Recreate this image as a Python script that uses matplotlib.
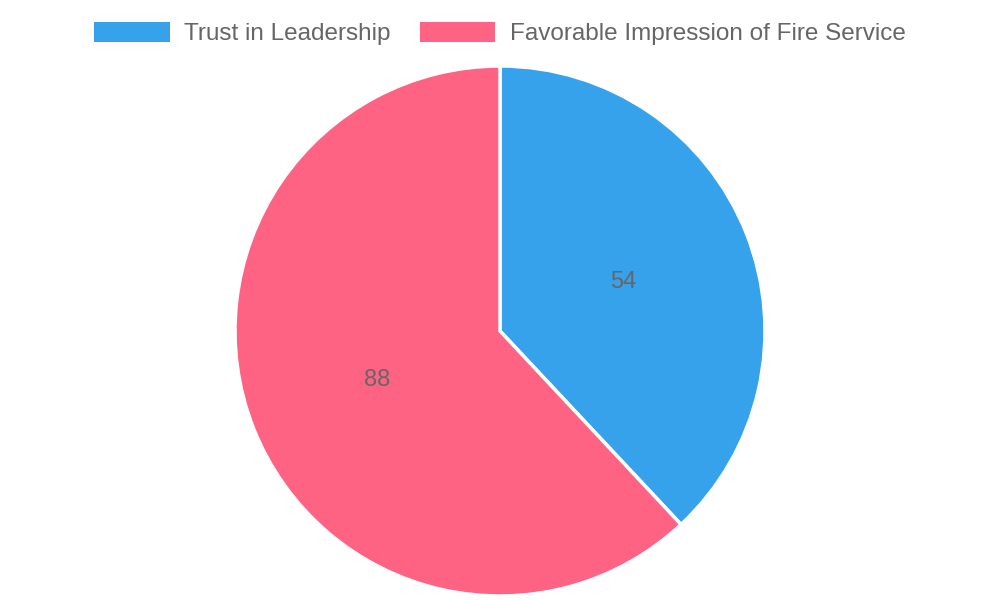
import matplotlib.pyplot as plt
from matplotlib.patches import Patch

labels = ["Trust in Leadership", "Favorable Impression of Fire Service"]
values = [54, 88]
colors = ["#36A2EB", "#FF6384"]

plt.rcParams["font.family"] = ["Liberation Sans", "DejaVu Sans"]

fig = plt.figure(figsize=(10, 6), dpi=100)
r_px, cx, cy = 265, 500, 331
ax = fig.add_axes([(cx - r_px) / 1000, (600 - cy - r_px) / 600, 2 * r_px / 1000, 2 * r_px / 600])

wedges, texts = ax.pie(
    values, colors=colors, startangle=90, counterclock=False,
    labels=[str(v) for v in values], labeldistance=0.5,
    wedgeprops=dict(edgecolor="white", linewidth=2.5),
    textprops=dict(color="#666666", fontsize=17),
)
for t in texts:
    t.set_ha("center")
    t.set_va("center")
ax.set_xlim(-1, 1)
ax.set_ylim(-1, 1)
ax.set_aspect("equal")

handles = [Patch(facecolor=c, edgecolor="none") for c in colors]
fig.legend(handles, labels, loc="upper center", bbox_to_anchor=(0.5, 1.0), ncol=2,
           frameon=False, fontsize=17.5, labelcolor="#666666",
           handlelength=3.1, handleheight=0.9, columnspacing=1.2, handletextpad=0.6)

fig.savefig("out.png", dpi=100)
